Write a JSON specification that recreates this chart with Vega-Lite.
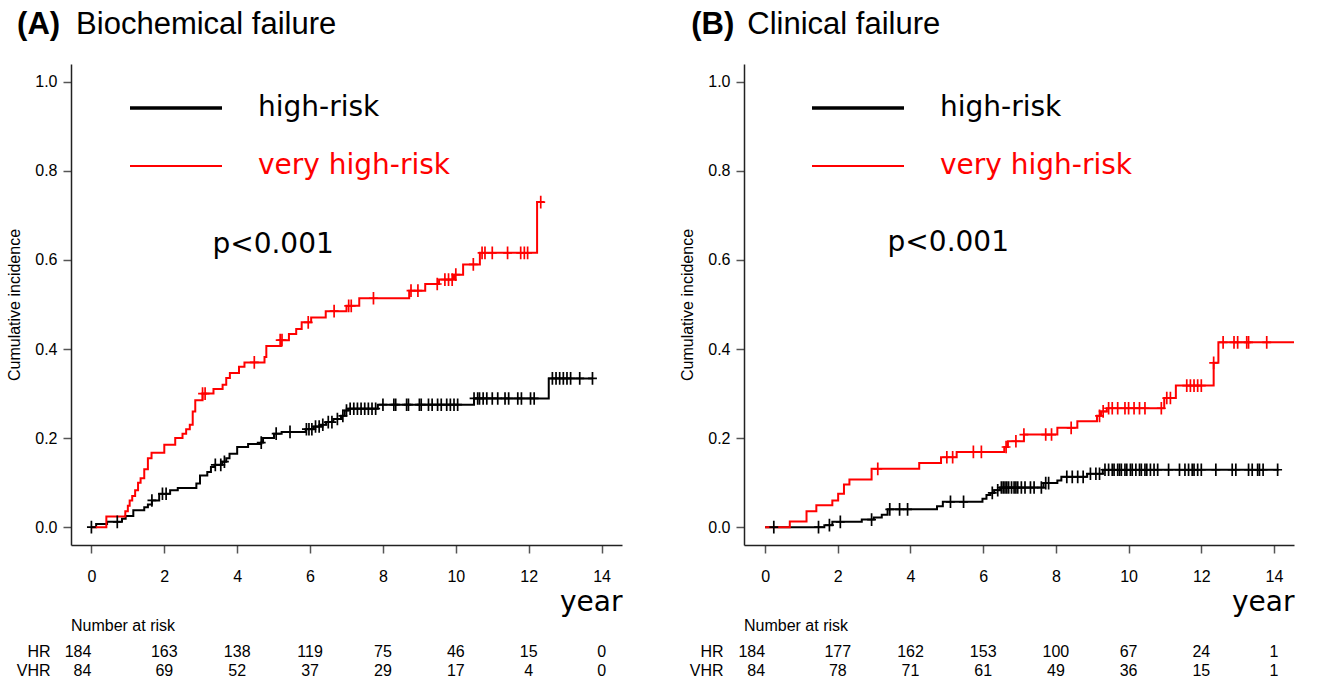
{
  "$schema": "https://vega.github.io/schema/vega-lite/v6.json",
  "padding": {"left": 6, "top": 8, "right": 5, "bottom": 5},
  "config": {"view": {"stroke": null}, "axis": {"grid": false}, "font": "Liberation Sans"},
  "datasets": {
    "bioCurve": [
      {"group": "high-risk", "t": 0, "p": 0}, {"group": "high-risk", "t": 0.13, "p": 0.007}, {"group": "high-risk", "t": 0.43, "p": 0.012},
      {"group": "high-risk", "t": 0.84, "p": 0.019}, {"group": "high-risk", "t": 0.94, "p": 0.025}, {"group": "high-risk", "t": 1.15, "p": 0.038},
      {"group": "high-risk", "t": 1.45, "p": 0.045}, {"group": "high-risk", "t": 1.55, "p": 0.051}, {"group": "high-risk", "t": 1.66, "p": 0.06},
      {"group": "high-risk", "t": 1.86, "p": 0.075}, {"group": "high-risk", "t": 2.16, "p": 0.083}, {"group": "high-risk", "t": 2.37, "p": 0.088},
      {"group": "high-risk", "t": 2.88, "p": 0.098}, {"group": "high-risk", "t": 2.98, "p": 0.116}, {"group": "high-risk", "t": 3.18, "p": 0.124},
      {"group": "high-risk", "t": 3.28, "p": 0.135}, {"group": "high-risk", "t": 3.38, "p": 0.14}, {"group": "high-risk", "t": 3.59, "p": 0.147},
      {"group": "high-risk", "t": 3.7, "p": 0.155}, {"group": "high-risk", "t": 3.79, "p": 0.165}, {"group": "high-risk", "t": 4.0, "p": 0.18},
      {"group": "high-risk", "t": 4.3, "p": 0.187}, {"group": "high-risk", "t": 4.66, "p": 0.19}, {"group": "high-risk", "t": 4.71, "p": 0.2},
      {"group": "high-risk", "t": 5.01, "p": 0.21}, {"group": "high-risk", "t": 5.22, "p": 0.214}, {"group": "high-risk", "t": 5.88, "p": 0.22},
      {"group": "high-risk", "t": 6.1, "p": 0.226}, {"group": "high-risk", "t": 6.3, "p": 0.23}, {"group": "high-risk", "t": 6.44, "p": 0.236},
      {"group": "high-risk", "t": 6.64, "p": 0.243}, {"group": "high-risk", "t": 6.85, "p": 0.25}, {"group": "high-risk", "t": 6.95, "p": 0.262},
      {"group": "high-risk", "t": 7.05, "p": 0.266}, {"group": "high-risk", "t": 7.86, "p": 0.275}, {"group": "high-risk", "t": 10.5, "p": 0.289},
      {"group": "high-risk", "t": 12.55, "p": 0.334}, {"group": "high-risk", "t": 13.76, "p": 0.334},
      {"group": "very high-risk", "t": 0, "p": 0}, {"group": "very high-risk", "t": 0.41, "p": 0.024}, {"group": "very high-risk", "t": 0.93, "p": 0.036},
      {"group": "very high-risk", "t": 1.0, "p": 0.048}, {"group": "very high-risk", "t": 1.05, "p": 0.06}, {"group": "very high-risk", "t": 1.12, "p": 0.07},
      {"group": "very high-risk", "t": 1.2, "p": 0.083}, {"group": "very high-risk", "t": 1.28, "p": 0.1}, {"group": "very high-risk", "t": 1.35, "p": 0.11},
      {"group": "very high-risk", "t": 1.45, "p": 0.13}, {"group": "very high-risk", "t": 1.55, "p": 0.155}, {"group": "very high-risk", "t": 1.65, "p": 0.167},
      {"group": "very high-risk", "t": 2.0, "p": 0.185}, {"group": "very high-risk", "t": 2.3, "p": 0.2}, {"group": "very high-risk", "t": 2.5, "p": 0.21},
      {"group": "very high-risk", "t": 2.6, "p": 0.22}, {"group": "very high-risk", "t": 2.7, "p": 0.23}, {"group": "very high-risk", "t": 2.78, "p": 0.26},
      {"group": "very high-risk", "t": 2.85, "p": 0.285}, {"group": "very high-risk", "t": 3.05, "p": 0.3}, {"group": "very high-risk", "t": 3.35, "p": 0.31},
      {"group": "very high-risk", "t": 3.6, "p": 0.32}, {"group": "very high-risk", "t": 3.7, "p": 0.335}, {"group": "very high-risk", "t": 3.8, "p": 0.346},
      {"group": "very high-risk", "t": 4.05, "p": 0.36}, {"group": "very high-risk", "t": 4.2, "p": 0.37}, {"group": "very high-risk", "t": 4.75, "p": 0.382},
      {"group": "very high-risk", "t": 4.8, "p": 0.407}, {"group": "very high-risk", "t": 5.2, "p": 0.42}, {"group": "very high-risk", "t": 5.42, "p": 0.434},
      {"group": "very high-risk", "t": 5.62, "p": 0.445}, {"group": "very high-risk", "t": 5.77, "p": 0.46}, {"group": "very high-risk", "t": 6.03, "p": 0.471},
      {"group": "very high-risk", "t": 6.43, "p": 0.485}, {"group": "very high-risk", "t": 7.0, "p": 0.497}, {"group": "very high-risk", "t": 7.35, "p": 0.514},
      {"group": "very high-risk", "t": 8.72, "p": 0.531}, {"group": "very high-risk", "t": 9.16, "p": 0.546}, {"group": "very high-risk", "t": 9.54, "p": 0.556},
      {"group": "very high-risk", "t": 9.95, "p": 0.567}, {"group": "very high-risk", "t": 10.2, "p": 0.59}, {"group": "very high-risk", "t": 10.66, "p": 0.616},
      {"group": "very high-risk", "t": 12.23, "p": 0.73}, {"group": "very high-risk", "t": 12.42, "p": 0.73}
    ],
    "bioCensor": [
      {"group": "high-risk", "t": 0, "p": 0}, {"group": "high-risk", "t": 0.71, "p": 0.012}, {"group": "high-risk", "t": 1.66, "p": 0.06},
      {"group": "high-risk", "t": 1.95, "p": 0.075}, {"group": "high-risk", "t": 2.05, "p": 0.075}, {"group": "high-risk", "t": 3.4, "p": 0.14},
      {"group": "high-risk", "t": 3.55, "p": 0.14}, {"group": "high-risk", "t": 3.65, "p": 0.147}, {"group": "high-risk", "t": 4.66, "p": 0.19},
      {"group": "high-risk", "t": 5.07, "p": 0.21}, {"group": "high-risk", "t": 5.45, "p": 0.214}, {"group": "high-risk", "t": 5.9, "p": 0.22},
      {"group": "high-risk", "t": 5.97, "p": 0.22}, {"group": "high-risk", "t": 6.05, "p": 0.22}, {"group": "high-risk", "t": 6.15, "p": 0.226},
      {"group": "high-risk", "t": 6.25, "p": 0.226}, {"group": "high-risk", "t": 6.35, "p": 0.23}, {"group": "high-risk", "t": 6.5, "p": 0.236},
      {"group": "high-risk", "t": 6.6, "p": 0.236}, {"group": "high-risk", "t": 6.75, "p": 0.243}, {"group": "high-risk", "t": 6.9, "p": 0.25},
      {"group": "high-risk", "t": 7.0, "p": 0.262}, {"group": "high-risk", "t": 7.1, "p": 0.266}, {"group": "high-risk", "t": 7.2, "p": 0.266},
      {"group": "high-risk", "t": 7.3, "p": 0.266}, {"group": "high-risk", "t": 7.4, "p": 0.266}, {"group": "high-risk", "t": 7.5, "p": 0.266},
      {"group": "high-risk", "t": 7.6, "p": 0.266}, {"group": "high-risk", "t": 7.7, "p": 0.266}, {"group": "high-risk", "t": 7.8, "p": 0.266},
      {"group": "high-risk", "t": 8.0, "p": 0.275}, {"group": "high-risk", "t": 8.3, "p": 0.275}, {"group": "high-risk", "t": 8.35, "p": 0.275},
      {"group": "high-risk", "t": 8.65, "p": 0.275}, {"group": "high-risk", "t": 8.7, "p": 0.275}, {"group": "high-risk", "t": 9.0, "p": 0.275},
      {"group": "high-risk", "t": 9.05, "p": 0.275}, {"group": "high-risk", "t": 9.25, "p": 0.275}, {"group": "high-risk", "t": 9.35, "p": 0.275},
      {"group": "high-risk", "t": 9.5, "p": 0.275}, {"group": "high-risk", "t": 9.6, "p": 0.275}, {"group": "high-risk", "t": 9.75, "p": 0.275},
      {"group": "high-risk", "t": 9.85, "p": 0.275}, {"group": "high-risk", "t": 9.95, "p": 0.275}, {"group": "high-risk", "t": 10.05, "p": 0.275},
      {"group": "high-risk", "t": 10.5, "p": 0.289}, {"group": "high-risk", "t": 10.6, "p": 0.289}, {"group": "high-risk", "t": 10.65, "p": 0.289},
      {"group": "high-risk", "t": 10.75, "p": 0.289}, {"group": "high-risk", "t": 10.85, "p": 0.289}, {"group": "high-risk", "t": 11.0, "p": 0.289},
      {"group": "high-risk", "t": 11.15, "p": 0.289}, {"group": "high-risk", "t": 11.35, "p": 0.289}, {"group": "high-risk", "t": 11.45, "p": 0.289},
      {"group": "high-risk", "t": 11.7, "p": 0.289}, {"group": "high-risk", "t": 11.8, "p": 0.289}, {"group": "high-risk", "t": 12.05, "p": 0.289},
      {"group": "high-risk", "t": 12.15, "p": 0.289}, {"group": "high-risk", "t": 12.65, "p": 0.334}, {"group": "high-risk", "t": 12.75, "p": 0.334},
      {"group": "high-risk", "t": 12.85, "p": 0.334}, {"group": "high-risk", "t": 12.95, "p": 0.334}, {"group": "high-risk", "t": 13.05, "p": 0.334},
      {"group": "high-risk", "t": 13.15, "p": 0.334}, {"group": "high-risk", "t": 13.4, "p": 0.334}, {"group": "high-risk", "t": 13.75, "p": 0.334},
      {"group": "very high-risk", "t": 3.05, "p": 0.3}, {"group": "very high-risk", "t": 3.12, "p": 0.3}, {"group": "very high-risk", "t": 4.47, "p": 0.37},
      {"group": "very high-risk", "t": 5.18, "p": 0.42}, {"group": "very high-risk", "t": 5.23, "p": 0.42}, {"group": "very high-risk", "t": 5.95, "p": 0.46},
      {"group": "very high-risk", "t": 6.66, "p": 0.485}, {"group": "very high-risk", "t": 7.06, "p": 0.497}, {"group": "very high-risk", "t": 7.13, "p": 0.497},
      {"group": "very high-risk", "t": 7.74, "p": 0.514}, {"group": "very high-risk", "t": 8.77, "p": 0.531}, {"group": "very high-risk", "t": 8.96, "p": 0.531},
      {"group": "very high-risk", "t": 9.49, "p": 0.546}, {"group": "very high-risk", "t": 9.7, "p": 0.556}, {"group": "very high-risk", "t": 9.8, "p": 0.556},
      {"group": "very high-risk", "t": 9.9, "p": 0.556}, {"group": "very high-risk", "t": 10.0, "p": 0.567}, {"group": "very high-risk", "t": 10.48, "p": 0.59},
      {"group": "very high-risk", "t": 10.72, "p": 0.616}, {"group": "very high-risk", "t": 10.8, "p": 0.616}, {"group": "very high-risk", "t": 11.0, "p": 0.616},
      {"group": "very high-risk", "t": 11.42, "p": 0.616}, {"group": "very high-risk", "t": 11.78, "p": 0.616}, {"group": "very high-risk", "t": 11.88, "p": 0.616},
      {"group": "very high-risk", "t": 11.97, "p": 0.616}, {"group": "very high-risk", "t": 12.33, "p": 0.73}
    ],
    "clinCurve": [
      {"group": "high-risk", "t": 0, "p": 0}, {"group": "high-risk", "t": 1.63, "p": 0.0045}, {"group": "high-risk", "t": 1.85, "p": 0.012},
      {"group": "high-risk", "t": 2.66, "p": 0.017}, {"group": "high-risk", "t": 2.99, "p": 0.022}, {"group": "high-risk", "t": 3.21, "p": 0.028},
      {"group": "high-risk", "t": 3.37, "p": 0.04}, {"group": "high-risk", "t": 4.73, "p": 0.047}, {"group": "high-risk", "t": 4.89, "p": 0.057},
      {"group": "high-risk", "t": 5.98, "p": 0.064}, {"group": "high-risk", "t": 6.09, "p": 0.072}, {"group": "high-risk", "t": 6.2, "p": 0.077},
      {"group": "high-risk", "t": 6.3, "p": 0.083}, {"group": "high-risk", "t": 6.47, "p": 0.089}, {"group": "high-risk", "t": 7.66, "p": 0.099},
      {"group": "high-risk", "t": 8.04, "p": 0.105}, {"group": "high-risk", "t": 8.15, "p": 0.113}, {"group": "high-risk", "t": 8.86, "p": 0.12},
      {"group": "high-risk", "t": 9.29, "p": 0.129}, {"group": "high-risk", "t": 14.13, "p": 0.129},
      {"group": "very high-risk", "t": 0, "p": 0}, {"group": "very high-risk", "t": 0.68, "p": 0.013}, {"group": "very high-risk", "t": 1.14, "p": 0.036},
      {"group": "very high-risk", "t": 1.41, "p": 0.049}, {"group": "very high-risk", "t": 1.85, "p": 0.06}, {"group": "very high-risk", "t": 2.01, "p": 0.075},
      {"group": "very high-risk", "t": 2.17, "p": 0.096}, {"group": "very high-risk", "t": 2.32, "p": 0.107}, {"group": "very high-risk", "t": 2.93, "p": 0.131},
      {"group": "very high-risk", "t": 4.24, "p": 0.144}, {"group": "very high-risk", "t": 4.84, "p": 0.157}, {"group": "very high-risk", "t": 5.27, "p": 0.169},
      {"group": "very high-risk", "t": 6.58, "p": 0.18}, {"group": "very high-risk", "t": 6.68, "p": 0.193}, {"group": "very high-risk", "t": 7.12, "p": 0.208},
      {"group": "very high-risk", "t": 8.04, "p": 0.223}, {"group": "very high-risk", "t": 8.59, "p": 0.238}, {"group": "very high-risk", "t": 9.13, "p": 0.25},
      {"group": "very high-risk", "t": 9.24, "p": 0.26}, {"group": "very high-risk", "t": 9.4, "p": 0.267}, {"group": "very high-risk", "t": 10.98, "p": 0.29},
      {"group": "very high-risk", "t": 11.3, "p": 0.318}, {"group": "very high-risk", "t": 12.34, "p": 0.369}, {"group": "very high-risk", "t": 12.47, "p": 0.415},
      {"group": "very high-risk", "t": 14.55, "p": 0.415}
    ],
    "clinCensor": [
      {"group": "high-risk", "t": 0.24, "p": 0}, {"group": "high-risk", "t": 1.47, "p": 0}, {"group": "high-risk", "t": 1.77, "p": 0.0045},
      {"group": "high-risk", "t": 2.07, "p": 0.012}, {"group": "high-risk", "t": 2.93, "p": 0.017}, {"group": "high-risk", "t": 3.43, "p": 0.04},
      {"group": "high-risk", "t": 3.7, "p": 0.04}, {"group": "high-risk", "t": 3.92, "p": 0.04}, {"group": "high-risk", "t": 5.1, "p": 0.057},
      {"group": "high-risk", "t": 5.46, "p": 0.057}, {"group": "high-risk", "t": 6.25, "p": 0.077}, {"group": "high-risk", "t": 6.4, "p": 0.083},
      {"group": "high-risk", "t": 6.5, "p": 0.089}, {"group": "high-risk", "t": 6.55, "p": 0.089}, {"group": "high-risk", "t": 6.6, "p": 0.089},
      {"group": "high-risk", "t": 6.65, "p": 0.089}, {"group": "high-risk", "t": 6.7, "p": 0.089}, {"group": "high-risk", "t": 6.78, "p": 0.089},
      {"group": "high-risk", "t": 6.85, "p": 0.089}, {"group": "high-risk", "t": 6.9, "p": 0.089}, {"group": "high-risk", "t": 6.95, "p": 0.089},
      {"group": "high-risk", "t": 7.05, "p": 0.089}, {"group": "high-risk", "t": 7.15, "p": 0.089}, {"group": "high-risk", "t": 7.3, "p": 0.089},
      {"group": "high-risk", "t": 7.4, "p": 0.089}, {"group": "high-risk", "t": 7.6, "p": 0.089}, {"group": "high-risk", "t": 7.72, "p": 0.099},
      {"group": "high-risk", "t": 7.8, "p": 0.099}, {"group": "high-risk", "t": 8.3, "p": 0.113}, {"group": "high-risk", "t": 8.45, "p": 0.113},
      {"group": "high-risk", "t": 8.6, "p": 0.113}, {"group": "high-risk", "t": 8.75, "p": 0.113}, {"group": "high-risk", "t": 8.95, "p": 0.12},
      {"group": "high-risk", "t": 9.1, "p": 0.12}, {"group": "high-risk", "t": 9.2, "p": 0.12}, {"group": "high-risk", "t": 9.35, "p": 0.129},
      {"group": "high-risk", "t": 9.45, "p": 0.129}, {"group": "high-risk", "t": 9.55, "p": 0.129}, {"group": "high-risk", "t": 9.6, "p": 0.129},
      {"group": "high-risk", "t": 9.7, "p": 0.129}, {"group": "high-risk", "t": 9.75, "p": 0.129}, {"group": "high-risk", "t": 9.8, "p": 0.129},
      {"group": "high-risk", "t": 9.9, "p": 0.129}, {"group": "high-risk", "t": 9.95, "p": 0.129}, {"group": "high-risk", "t": 10.05, "p": 0.129},
      {"group": "high-risk", "t": 10.1, "p": 0.129}, {"group": "high-risk", "t": 10.2, "p": 0.129}, {"group": "high-risk", "t": 10.3, "p": 0.129},
      {"group": "high-risk", "t": 10.35, "p": 0.129}, {"group": "high-risk", "t": 10.45, "p": 0.129}, {"group": "high-risk", "t": 10.5, "p": 0.129},
      {"group": "high-risk", "t": 10.6, "p": 0.129}, {"group": "high-risk", "t": 10.7, "p": 0.129}, {"group": "high-risk", "t": 10.8, "p": 0.129},
      {"group": "high-risk", "t": 11.1, "p": 0.129}, {"group": "high-risk", "t": 11.4, "p": 0.129}, {"group": "high-risk", "t": 11.55, "p": 0.129},
      {"group": "high-risk", "t": 11.65, "p": 0.129}, {"group": "high-risk", "t": 11.75, "p": 0.129}, {"group": "high-risk", "t": 11.8, "p": 0.129},
      {"group": "high-risk", "t": 11.9, "p": 0.129}, {"group": "high-risk", "t": 12.0, "p": 0.129}, {"group": "high-risk", "t": 12.4, "p": 0.129},
      {"group": "high-risk", "t": 12.85, "p": 0.129}, {"group": "high-risk", "t": 12.95, "p": 0.129}, {"group": "high-risk", "t": 13.3, "p": 0.129},
      {"group": "high-risk", "t": 13.4, "p": 0.129}, {"group": "high-risk", "t": 13.55, "p": 0.129}, {"group": "high-risk", "t": 13.6, "p": 0.129},
      {"group": "high-risk", "t": 13.7, "p": 0.129}, {"group": "high-risk", "t": 14.1, "p": 0.129},
      {"group": "very high-risk", "t": 3.1, "p": 0.131}, {"group": "very high-risk", "t": 5.0, "p": 0.157}, {"group": "very high-risk", "t": 5.16, "p": 0.157},
      {"group": "very high-risk", "t": 5.73, "p": 0.169}, {"group": "very high-risk", "t": 5.95, "p": 0.169}, {"group": "very high-risk", "t": 6.63, "p": 0.18},
      {"group": "very high-risk", "t": 6.9, "p": 0.193}, {"group": "very high-risk", "t": 7.12, "p": 0.208}, {"group": "very high-risk", "t": 7.72, "p": 0.208},
      {"group": "very high-risk", "t": 7.88, "p": 0.208}, {"group": "very high-risk", "t": 8.42, "p": 0.223}, {"group": "very high-risk", "t": 9.2, "p": 0.25},
      {"group": "very high-risk", "t": 9.3, "p": 0.26}, {"group": "very high-risk", "t": 9.45, "p": 0.267}, {"group": "very high-risk", "t": 9.55, "p": 0.267},
      {"group": "very high-risk", "t": 9.7, "p": 0.267}, {"group": "very high-risk", "t": 9.9, "p": 0.267}, {"group": "very high-risk", "t": 10.0, "p": 0.267},
      {"group": "very high-risk", "t": 10.15, "p": 0.267}, {"group": "very high-risk", "t": 10.3, "p": 0.267}, {"group": "very high-risk", "t": 10.45, "p": 0.267},
      {"group": "very high-risk", "t": 10.9, "p": 0.267}, {"group": "very high-risk", "t": 11.05, "p": 0.29}, {"group": "very high-risk", "t": 11.15, "p": 0.29},
      {"group": "very high-risk", "t": 11.6, "p": 0.318}, {"group": "very high-risk", "t": 11.7, "p": 0.318}, {"group": "very high-risk", "t": 11.8, "p": 0.318},
      {"group": "very high-risk", "t": 11.9, "p": 0.318}, {"group": "very high-risk", "t": 12.0, "p": 0.318}, {"group": "very high-risk", "t": 12.34, "p": 0.369},
      {"group": "very high-risk", "t": 12.6, "p": 0.415}, {"group": "very high-risk", "t": 12.9, "p": 0.415}, {"group": "very high-risk", "t": 13.0, "p": 0.415},
      {"group": "very high-risk", "t": 13.25, "p": 0.415}, {"group": "very high-risk", "t": 13.3, "p": 0.415}, {"group": "very high-risk", "t": 13.8, "p": 0.415}
    ],
    "bioRisk": [
      {"group": "HR", "t": 0, "n": 184}, {"group": "HR", "t": 2, "n": 163}, {"group": "HR", "t": 4, "n": 138}, {"group": "HR", "t": 6, "n": 119},
      {"group": "HR", "t": 8, "n": 75}, {"group": "HR", "t": 10, "n": 46}, {"group": "HR", "t": 12, "n": 15}, {"group": "HR", "t": 14, "n": 0},
      {"group": "VHR", "t": 0, "n": 84}, {"group": "VHR", "t": 2, "n": 69}, {"group": "VHR", "t": 4, "n": 52}, {"group": "VHR", "t": 6, "n": 37},
      {"group": "VHR", "t": 8, "n": 29}, {"group": "VHR", "t": 10, "n": 17}, {"group": "VHR", "t": 12, "n": 4}, {"group": "VHR", "t": 14, "n": 0}
    ],
    "clinRisk": [
      {"group": "HR", "t": 0, "n": 184}, {"group": "HR", "t": 2, "n": 177}, {"group": "HR", "t": 4, "n": 162}, {"group": "HR", "t": 6, "n": 153},
      {"group": "HR", "t": 8, "n": 100}, {"group": "HR", "t": 10, "n": 67}, {"group": "HR", "t": 12, "n": 24}, {"group": "HR", "t": 14, "n": 1},
      {"group": "VHR", "t": 0, "n": 84}, {"group": "VHR", "t": 2, "n": 78}, {"group": "VHR", "t": 4, "n": 71}, {"group": "VHR", "t": 6, "n": 61},
      {"group": "VHR", "t": 8, "n": 49}, {"group": "VHR", "t": 10, "n": 36}, {"group": "VHR", "t": 12, "n": 15}, {"group": "VHR", "t": 14, "n": 1}
    ]
  },
  "spacing": 57,
  "resolve": {"scale": {"color": "independent"}, "legend": {"color": "independent"}},
  "hconcat": [
    {
      "bounds": "flush",
      "spacing": 97,
      "resolve": {"scale": {"color": "independent"}, "legend": {"color": "independent"}},
      "vconcat": [
        {
          "width": 551,
          "height": 481,
          "layer": [
            {
              "data": {"name": "bioCurve"},
              "mark": {"type": "line", "interpolate": "step-after", "strokeWidth": 2},
              "encoding": {
                "x": {"field": "t", "type": "quantitative", "scale": {"domain": [-0.56, 14.56], "nice": false, "zero": false},
                  "axis": {"values": [0, 2, 4, 6, 8, 10, 12, 14], "format": "d", "domainColor": "#222", "domainWidth": 1.5, "tickColor": "#555", "tickSize": 8, "tickWidth": 1.5,
                    "labelFont": "Liberation Sans", "labelFontSize": 16, "labelColor": "#000", "labelPadding": 15,
                    "title": "year", "titleFont": "DejaVu Sans", "titleFontSize": 28, "titleFontWeight": "normal", "titleColor": "#000", "titleAnchor": "end", "titlePadding": 4}},
                "y": {"field": "p", "type": "quantitative", "scale": {"domain": [-0.04, 1.04], "nice": false, "zero": false},
                  "axis": {"values": [0, 0.2, 0.4, 0.6, 0.8, 1.0], "format": ".1f", "domainColor": "#222", "domainWidth": 1.5, "tickColor": "#555", "tickSize": 8, "tickWidth": 1.5,
                    "labelFont": "Liberation Sans", "labelFontSize": 16, "labelColor": "#000", "labelPadding": 6,
                    "title": "Cumulative incidence", "titleFont": "Liberation Sans", "titleFontSize": 16, "titleFontWeight": "normal", "titleColor": "#000", "titlePadding": 12}},
                "color": {"field": "group", "type": "nominal", "scale": {"domain": ["high-risk", "very high-risk"], "range": ["#000000", "#ff0000"]},
                  "legend": {"orient": "none", "legendX": 91, "legendY": 30, "title": null, "symbolType": "stroke", "symbolSize": 8464, "symbolStrokeWidth": 3,
                    "labelFont": "DejaVu Sans", "labelFontSize": 28, "labelOffset": 68, "labelLimit": 400, "rowPadding": 30, "padding": 0,
                    "encode": {"labels": {"update": {"fill": {"signal": "datum.value === 'very high-risk' ? '#ff0000' : '#000000'"}}},
                      "symbols": {"update": {"strokeWidth": {"signal": "datum.value === 'very high-risk' ? 2 : 3.5"}}}}}}
              }
            },
            {
              "data": {"name": "bioCensor"},
              "mark": {"type": "point", "shape": "M-0.7,0H0.7M0,-1V1", "size": 160, "filled": false, "strokeWidth": 1.7, "opacity": 1},
              "encoding": {
                "x": {"field": "t", "type": "quantitative"},
                "y": {"field": "p", "type": "quantitative"},
                "color": {"field": "group", "type": "nominal", "legend": null}
              }
            },
            {
              "data": {"values": [{"label": "p<0.001"}]},
              "mark": {"type": "text", "font": "DejaVu Sans", "fontSize": 28, "align": "left", "baseline": "middle", "color": "#000"},
              "encoding": {"x": {"datum": 3.32, "type": "quantitative"}, "y": {"datum": 0.634, "type": "quantitative"}, "text": {"field": "label", "type": "nominal"}}
            },
            {
              "data": {"values": [{"label": "(A)"}]},
              "mark": {"type": "text", "font": "Liberation Sans", "fontSize": 31, "fontWeight": "bold", "align": "left", "baseline": "middle", "color": "#000"},
              "encoding": {"x": {"datum": -2.04, "type": "quantitative"}, "y": {"datum": 1.128, "type": "quantitative"}, "text": {"field": "label", "type": "nominal"}}
            },
            {
              "data": {"values": [{"label": "Biochemical failure"}]},
              "mark": {"type": "text", "font": "Liberation Sans", "fontSize": 31, "align": "left", "baseline": "middle", "color": "#000"},
              "encoding": {"x": {"datum": -0.42, "type": "quantitative"}, "y": {"datum": 1.128, "type": "quantitative"}, "text": {"field": "label", "type": "nominal"}}
            }
          ]
        },
        {
          "data": {"name": "bioRisk"},
          "width": 551,
          "height": 38,
          "title": {"text": "Number at risk", "anchor": "start", "frame": "group", "font": "Liberation Sans", "fontSize": 16, "fontWeight": "normal", "color": "#000", "offset": 8},
          "encoding": {
            "x": {"field": "t", "type": "quantitative", "scale": {"domain": [-0.56, 14.56], "nice": false, "zero": false}, "axis": null},
            "y": {"field": "group", "type": "nominal", "scale": {"type": "point", "domain": ["HR", "VHR"], "padding": 0.5},
              "axis": {"title": null, "domain": false, "ticks": false, "labelPadding": 21, "labelFont": "Liberation Sans", "labelFontSize": 16, "labelColor": "#000"}},
            "text": {"field": "n", "type": "quantitative"}
          },
          "layer": [
            {"transform": [{"filter": "datum.t == 0"}], "mark": {"type": "text", "font": "Liberation Sans", "fontSize": 16, "align": "right", "baseline": "middle", "color": "#000"}},
            {"transform": [{"filter": "datum.t > 0"}], "mark": {"type": "text", "font": "Liberation Sans", "fontSize": 16, "align": "center", "baseline": "middle", "color": "#000"}}
          ]
        }
      ]
    },
    {
      "bounds": "flush",
      "spacing": 97,
      "resolve": {"scale": {"color": "independent"}, "legend": {"color": "independent"}},
      "vconcat": [
        {
          "width": 550,
          "height": 481,
          "layer": [
            {
              "data": {"name": "clinCurve"},
              "mark": {"type": "line", "interpolate": "step-after", "strokeWidth": 2},
              "encoding": {
                "x": {"field": "t", "type": "quantitative", "scale": {"domain": [-0.58, 14.55], "nice": false, "zero": false},
                  "axis": {"values": [0, 2, 4, 6, 8, 10, 12, 14], "format": "d", "domainColor": "#222", "domainWidth": 1.5, "tickColor": "#555", "tickSize": 8, "tickWidth": 1.5,
                    "labelFont": "Liberation Sans", "labelFontSize": 16, "labelColor": "#000", "labelPadding": 15,
                    "title": "year", "titleFont": "DejaVu Sans", "titleFontSize": 28, "titleFontWeight": "normal", "titleColor": "#000", "titleAnchor": "end", "titlePadding": 4}},
                "y": {"field": "p", "type": "quantitative", "scale": {"domain": [-0.04, 1.04], "nice": false, "zero": false},
                  "axis": {"values": [0, 0.2, 0.4, 0.6, 0.8, 1.0], "format": ".1f", "domainColor": "#222", "domainWidth": 1.5, "tickColor": "#555", "tickSize": 8, "tickWidth": 1.5,
                    "labelFont": "Liberation Sans", "labelFontSize": 16, "labelColor": "#000", "labelPadding": 6,
                    "title": "Cumulative incidence", "titleFont": "Liberation Sans", "titleFontSize": 16, "titleFontWeight": "normal", "titleColor": "#000", "titlePadding": 12}},
                "color": {"field": "group", "type": "nominal", "scale": {"domain": ["high-risk", "very high-risk"], "range": ["#000000", "#ff0000"]},
                  "legend": {"orient": "none", "legendX": 100, "legendY": 30, "title": null, "symbolType": "stroke", "symbolSize": 8464, "symbolStrokeWidth": 3,
                    "labelFont": "DejaVu Sans", "labelFontSize": 28, "labelOffset": 68, "labelLimit": 400, "rowPadding": 30, "padding": 0,
                    "encode": {"labels": {"update": {"fill": {"signal": "datum.value === 'very high-risk' ? '#ff0000' : '#000000'"}}},
                      "symbols": {"update": {"strokeWidth": {"signal": "datum.value === 'very high-risk' ? 2 : 3.5"}}}}}}
              }
            },
            {
              "data": {"name": "clinCensor"},
              "mark": {"type": "point", "shape": "M-0.7,0H0.7M0,-1V1", "size": 160, "filled": false, "strokeWidth": 1.7, "opacity": 1},
              "encoding": {
                "x": {"field": "t", "type": "quantitative"},
                "y": {"field": "p", "type": "quantitative"},
                "color": {"field": "group", "type": "nominal", "legend": null}
              }
            },
            {
              "data": {"values": [{"label": "p<0.001"}]},
              "mark": {"type": "text", "font": "DejaVu Sans", "fontSize": 28, "align": "left", "baseline": "middle", "color": "#000"},
              "encoding": {"x": {"datum": 3.37, "type": "quantitative"}, "y": {"datum": 0.638, "type": "quantitative"}, "text": {"field": "label", "type": "nominal"}}
            },
            {
              "data": {"values": [{"label": "(B)"}]},
              "mark": {"type": "text", "font": "Liberation Sans", "fontSize": 31, "fontWeight": "bold", "align": "left", "baseline": "middle", "color": "#000"},
              "encoding": {"x": {"datum": -2.03, "type": "quantitative"}, "y": {"datum": 1.128, "type": "quantitative"}, "text": {"field": "label", "type": "nominal"}}
            },
            {
              "data": {"values": [{"label": "Clinical failure"}]},
              "mark": {"type": "text", "font": "Liberation Sans", "fontSize": 31, "align": "left", "baseline": "middle", "color": "#000"},
              "encoding": {"x": {"datum": -0.49, "type": "quantitative"}, "y": {"datum": 1.128, "type": "quantitative"}, "text": {"field": "label", "type": "nominal"}}
            }
          ]
        },
        {
          "data": {"name": "clinRisk"},
          "width": 550,
          "height": 38,
          "title": {"text": "Number at risk", "anchor": "start", "frame": "group", "font": "Liberation Sans", "fontSize": 16, "fontWeight": "normal", "color": "#000", "offset": 8},
          "encoding": {
            "x": {"field": "t", "type": "quantitative", "scale": {"domain": [-0.58, 14.55], "nice": false, "zero": false}, "axis": null},
            "y": {"field": "group", "type": "nominal", "scale": {"type": "point", "domain": ["HR", "VHR"], "padding": 0.5},
              "axis": {"title": null, "domain": false, "ticks": false, "labelPadding": 21, "labelFont": "Liberation Sans", "labelFontSize": 16, "labelColor": "#000"}},
            "text": {"field": "n", "type": "quantitative"}
          },
          "layer": [
            {"transform": [{"filter": "datum.t == 0"}], "mark": {"type": "text", "font": "Liberation Sans", "fontSize": 16, "align": "right", "baseline": "middle", "color": "#000"}},
            {"transform": [{"filter": "datum.t > 0"}], "mark": {"type": "text", "font": "Liberation Sans", "fontSize": 16, "align": "center", "baseline": "middle", "color": "#000"}}
          ]
        }
      ]
    }
  ]
}
